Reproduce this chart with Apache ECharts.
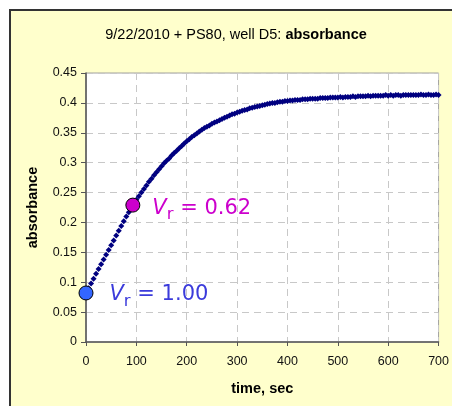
<!DOCTYPE html>
<html>
<head>
<meta charset="utf-8">
<script src="https://cdn.jsdelivr.net/npm/echarts@6/dist/echarts.min.js"></script>
<style>html,body{margin:0;padding:0;background:#fff}#c{width:452px;height:406px}</style>
</head>
<body>
<div id="c"></div>
<script>
const times = [0,5,10,15,20,25,30,35,40,45,50,55,60,65,70,75,80,85,90,95,
100,105,110,115,120,125,130,135,140,145,150,155,160,165,170,175,180,185,190,195,
200,205,210,215,220,225,230,235,240,245,250,255,260,265,270,275,280,285,290,295,
300,305,310,315,320,325,330,335,340,345,350,355,360,365,370,375,380,385,390,395,
400,405,410,415,420,425,430,435,440,445,450,455,460,465,470,475,480,485,490,495,
500,505,510,515,520,525,530,535,540,545,550,555,560,565,570,575,580,585,590,595,
600,605,610,615,620,625,630,635,640,645,650,655,660,665,670,675,680,685,690,695,700];
const absorbance = [0.082,0.090,0.098,0.106,0.114,0.122,0.130,0.138,0.146,0.154,0.162,0.170,0.178,0.186,0.194,0.202,0.210,0.217,0.225,0.232,
0.238,0.244,0.250,0.256,0.262,0.268,0.273,0.279,0.284,0.289,0.294,0.299,0.303,0.307,0.312,0.316,0.320,0.324,0.328,0.332,
0.336,0.339,0.343,0.346,0.349,0.352,0.355,0.358,0.360,0.362,0.365,0.367,0.369,0.371,0.373,0.375,0.377,0.379,0.381,0.382,
0.384,0.385,0.387,0.388,0.389,0.391,0.392,0.393,0.394,0.395,0.396,0.397,0.398,0.399,0.400,0.400,0.401,0.402,0.402,0.403,
0.403,0.404,0.404,0.405,0.405,0.405,0.406,0.406,0.406,0.407,0.407,0.407,0.407,0.408,0.408,0.408,0.408,0.409,0.409,0.409,
0.409,0.410,0.409,0.410,0.410,0.410,0.411,0.410,0.411,0.411,0.411,0.411,0.412,0.411,0.412,0.412,0.412,0.412,0.412,0.413,
0.412,0.413,0.412,0.413,0.413,0.412,0.413,0.413,0.413,0.413,0.413,0.413,0.413,0.414,0.413,0.413,0.414,0.413,0.413,0.414,0.413];
const markTimes = [0, 93];
const markValues = [0.082, 0.229];
const markLabels = ['1.00', '0.62'];
const xTicks = [0,100,200,300,400,500,600,700];
const yTicks = [0,0.05,0.1,0.15,0.2,0.25,0.3,0.35,0.4,0.45];

const curve = times.map((t,i)=>[t, absorbance[i]]);
const markColors = ['#3366FF', '#CC00CC'];
const labelColors = ['#3B3BDB', '#CC00CC'];
const markData = markTimes.map((t,i)=>({
  value:[t, markValues[i]],
  itemStyle:{color:markColors[i], borderColor:'#000', borderWidth:1, opacity:1},
  label:{
    show:true, position:'right', distance: i===0 ? 16 : 12, offset:[0, i===0 ? 2 : 3],
    formatter:'{v|V}{s|r}{n| = '+markLabels[i]+'}',
    rich:{
      v:{fontFamily:'DejaVu Sans', fontStyle:'italic', fontSize:21, color:labelColors[i], lineHeight:30, verticalAlign:'middle'},
      s:{fontFamily:'DejaVu Sans', fontSize:16.5, color:labelColors[i], lineHeight:16, padding:[14,0,0,0], verticalAlign:'middle'},
      n:{fontFamily:'DejaVu Sans', fontSize:21, color:labelColors[i], lineHeight:30, verticalAlign:'middle'}
    }
  }
}));

const chart = echarts.init(document.getElementById('c'), null, {renderer:'canvas'});
const axisFont = {fontFamily:'Liberation Sans, Arial', fontSize:12.5, color:'#111'};
chart.setOption({
  backgroundColor:'#ffffff',
  animation:false,
  graphic:[{type:'rect', z:-10, shape:{x:10,y:10,width:470,height:430}, style:{fill:'#FFFFCC', stroke:'#333', lineWidth:2}}],
  title:{
    left:231, top:22, textAlign:'center',
    text:'{a|9/22/2010 + PS80, well D5: }{b|absorbance}',
    textStyle:{fontWeight:'normal', rich:{
      a:{fontFamily:'Liberation Sans, Arial', fontSize:14.5, fontWeight:'normal', color:'#000'},
      b:{fontFamily:'Liberation Sans, Arial', fontSize:14.5, fontWeight:'bold', color:'#000'}
    }}
  },
  grid:{left:86, top:73, width:353, height:269, show:true, backgroundColor:'#fff', borderColor:'#a0a0a0', borderWidth:1},
  xAxis:{
    type:'value', min:xTicks[0], max:xTicks[xTicks.length-1], interval:100,
    name:'time, sec', nameLocation:'middle', nameGap:39,
    nameTextStyle:{fontFamily:'Liberation Sans, Arial', fontSize:14.5, fontWeight:'bold', color:'#000'},
    axisLine:{lineStyle:{color:'#555', width:1.5}},
    axisTick:{length:4, lineStyle:{color:'#555'}},
    axisLabel:Object.assign({margin:13}, axisFont),
    splitLine:{show:true, lineStyle:{color:'#c8c8c8', type:[7,5], width:1}}
  },
  yAxis:{
    type:'value', min:yTicks[0], max:yTicks[yTicks.length-1], interval:0.05,
    name:'absorbance', nameLocation:'middle', nameGap:46,
    nameTextStyle:{fontFamily:'Liberation Sans, Arial', fontSize:14.5, fontWeight:'bold', color:'#000'},
    axisLine:{lineStyle:{color:'#555', width:1.5}},
    axisTick:{length:5, lineStyle:{color:'#555'}},
    axisLabel:Object.assign({margin:9, formatter:v=>String(+v.toFixed(2))}, axisFont),
    splitLine:{show:true, lineStyle:{color:'#c8c8c8', type:[7,5], width:1}}
  },
  series:[
    {type:'scatter', data:curve, symbol:'diamond', symbolSize:6, itemStyle:{color:'#000080', opacity:1}, z:3},
    {type:'scatter', data:markData, symbol:'circle', symbolSize:14, z:5}
  ]
});
</script>
</body>
</html>
